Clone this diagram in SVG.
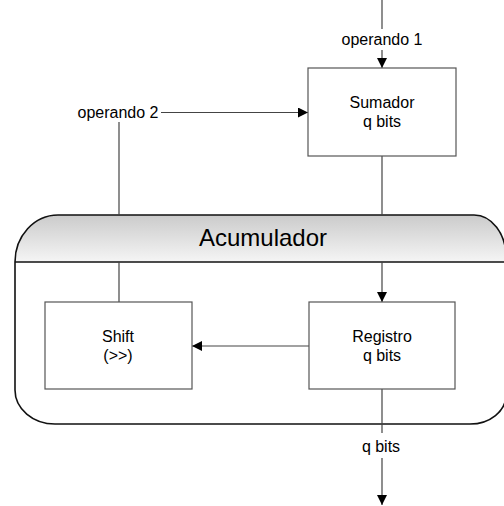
<svg xmlns="http://www.w3.org/2000/svg" width="504" height="506" viewBox="0 0 504 506">
  <defs>
    <linearGradient id="hdr" x1="0" y1="0" x2="0" y2="1">
      <stop offset="0" stop-color="#cbcbcb"/>
      <stop offset="1" stop-color="#f5f5f5"/>
    </linearGradient>
    <marker id="arr" viewBox="0 0 10 10" refX="10" refY="5" markerWidth="10" markerHeight="10" markerUnits="userSpaceOnUse" orient="auto">
      <path d="M0,0 L10,5 L0,10 Z" fill="#000"/>
    </marker>
    <style>
      .box { fill: #fff; stroke: #555; stroke-width: 1.2; }
      .wire { fill: none; stroke: #444; stroke-width: 1.2; }
      .lbl { font-family: "Liberation Sans", Arial, sans-serif; font-size: 16px; fill: #000; text-anchor: middle; }
      .title { font-family: "Liberation Sans", Arial, sans-serif; font-size: 24px; fill: #000; text-anchor: middle; }
    </style>
  </defs>
  <rect width="504" height="506" fill="#fff"/>

  <!-- Accumulator container -->
  <g id="acumulador">
    <path d="M15,262 L15,390 A40,34 0 0 0 55,424 L470,424 A36,29 0 0 0 506,395 L506,262 Z" fill="#fff" stroke="none"/>
    <path d="M15,262 A43,47 0 0 1 58,215 L474,215 A32,42 0 0 1 506,257 L506,262 Z" fill="url(#hdr)" stroke="none"/>
    <path d="M15,262 L15,390 A40,34 0 0 0 55,424 L470,424 A36,29 0 0 0 506,395 L506,257 A32,42 0 0 0 474,215 L58,215 A43,47 0 0 0 15,262 Z" fill="none" stroke="#111" stroke-width="1.6"/>
    <line x1="15" y1="262" x2="506" y2="262" stroke="#111" stroke-width="1.6"/>
    <text class="title" x="263" y="246">Acumulador</text>
  </g>

  <!-- Connectors -->
  <g id="connectors">
    <line class="wire" x1="382" y1="0" x2="382" y2="29"/>
    <line class="wire" x1="382" y1="50" x2="382" y2="68" marker-end="url(#arr)"/>
    <line class="wire" x1="161" y1="112.5" x2="308" y2="112.5" marker-end="url(#arr)"/>
    <line class="wire" x1="119" y1="122" x2="119" y2="215"/>
    <line class="wire" x1="119" y1="262" x2="119" y2="302"/>
    <line class="wire" x1="382" y1="156" x2="382" y2="215"/>
    <line class="wire" x1="382" y1="262" x2="382" y2="302" marker-end="url(#arr)"/>
    <line class="wire" x1="309" y1="346" x2="192" y2="346" marker-end="url(#arr)"/>
    <line class="wire" x1="382" y1="389" x2="382" y2="433"/>
    <line class="wire" x1="382" y1="458" x2="382" y2="505" marker-end="url(#arr)"/>
    <text class="lbl" x="382" y="45">operando 1</text>
    <text class="lbl" x="118" y="118">operando 2</text>
    <text class="lbl" x="381" y="452">q bits</text>
  </g>

  <g id="sumador">
    <rect class="box" x="308" y="68" width="148" height="88"/>
    <text class="lbl" x="382" y="108">Sumador</text>
    <text class="lbl" x="382" y="127">q bits</text>
  </g>

  <g id="registro">
    <rect class="box" x="309" y="302" width="146" height="87"/>
    <text class="lbl" x="382" y="342">Registro</text>
    <text class="lbl" x="382" y="361">q bits</text>
  </g>

  <g id="shift">
    <rect class="box" x="45" y="302" width="147" height="87"/>
    <text class="lbl" x="118" y="342">Shift</text>
    <text class="lbl" x="118" y="361">(&gt;&gt;)</text>
  </g>
</svg>
